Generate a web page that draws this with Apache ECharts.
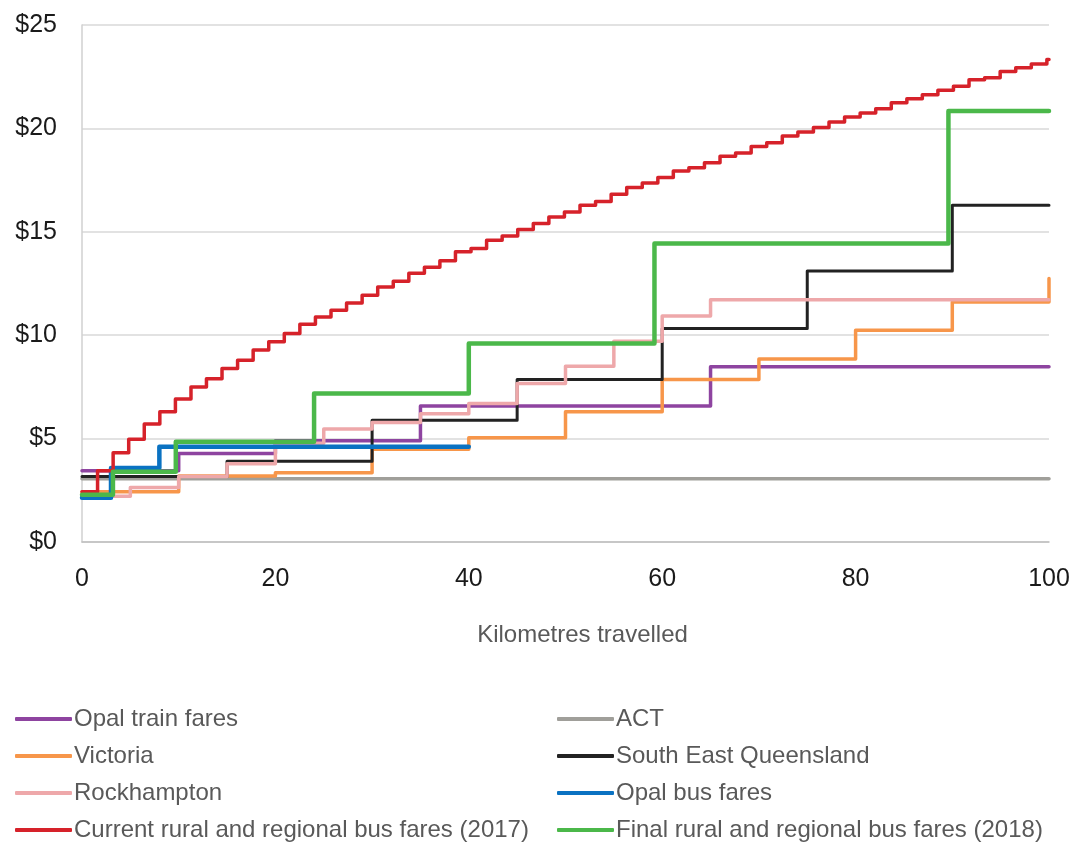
<!DOCTYPE html>
<html>
<head>
<meta charset="utf-8">
<script src="https://cdn.jsdelivr.net/npm/echarts@6/dist/echarts.min.js"></script>
<style>html,body{margin:0;padding:0;background:#fff;}#c{width:1075px;height:842px;}</style>
</head>
<body>
<div id="c"></div>
<script>
// ---- data ----
const xTicks = [0, 20, 40, 60, 80, 100];
const yTicks = [0, 5, 10, 15, 20, 25];

const opalTrainKm   = [0, 10, 20, 35, 65, 100];
const opalTrainFare = [3.44, 4.28, 4.90, 6.58, 8.48, 8.48];

const actKm   = [0, 100];
const actFare = [3.06, 3.06];

const victoriaKm   = [0, 10, 20, 30, 40, 50, 60, 70, 80, 90, 100];
const victoriaFare = [2.43, 3.19, 3.35, 4.48, 5.04, 6.30, 7.86, 8.85, 10.24, 11.61, 12.74];

const seqKm   = [0, 15, 30, 45, 60, 75, 90, 100];
const seqFare = [3.17, 3.90, 5.89, 7.86, 10.32, 13.10, 16.28, 16.28];

const rockKm   = [0, 5, 10, 15, 20, 25, 30, 35, 40, 45, 50, 55, 60, 65, 100];
const rockFare = [2.21, 2.63, 3.17, 3.78, 4.78, 5.46, 5.78, 6.20, 6.70, 7.67, 8.50, 9.71, 10.93, 11.72, 11.72];

const opalBusKm   = [0, 3, 8, 40];
const opalBusFare = [2.14, 3.58, 4.60, 4.60];

const currentKm = [0, 1.61, 3.22, 4.83, 6.44, 8.05, 9.66, 11.27, 12.87, 14.48, 16.09, 17.70, 19.31, 20.92,
  22.53, 24.14, 25.75, 27.36, 28.97, 30.58, 32.19, 33.80, 35.41, 37.01, 38.62, 40.23, 41.84, 43.45,
  45.06, 46.67, 48.28, 49.89, 51.50, 53.11, 54.72, 56.33, 57.94, 59.55, 61.15, 62.76, 64.37, 65.98,
  67.59, 69.20, 70.81, 72.42, 74.03, 75.64, 77.25, 78.86, 80.47, 82.08, 83.69, 85.30, 86.90, 88.51,
  90.12, 91.73, 93.34, 94.95, 96.56, 98.17, 99.78, 100];
const currentFare = [2.43, 3.44, 4.32, 4.97, 5.70, 6.30, 6.91, 7.50, 7.90, 8.39, 8.79, 9.28, 9.68, 10.08,
  10.53, 10.88, 11.21, 11.56, 11.93, 12.33, 12.61, 13.00, 13.28, 13.60, 14.03, 14.19, 14.59, 14.80,
  15.11, 15.40, 15.72, 15.96, 16.28, 16.47, 16.81, 17.14, 17.36, 17.62, 17.94, 18.10, 18.34, 18.65,
  18.81, 19.13, 19.31, 19.63, 19.83, 20.04, 20.31, 20.55, 20.75, 20.95, 21.24, 21.43, 21.63, 21.84,
  22.04, 22.35, 22.45, 22.75, 22.93, 23.12, 23.33, 23.33];

const finalKm   = [0, 3.2, 9.7, 24, 40, 59.2, 89.6, 100];
const finalFare = [2.29, 3.40, 4.85, 7.18, 9.60, 14.43, 20.84, 20.84];

const names = {
  train: 'Opal train fares', act: 'ACT', vic: 'Victoria', seq: 'South East Queensland',
  rock: 'Rockhampton', bus: 'Opal bus fares',
  cur: 'Current rural and regional bus fares (2017)', fin: 'Final rural and regional bus fares (2018)'
};

// ---- chart ----
function pairs(xs, ys) { return xs.map((x, i) => [x, ys[i]]); }
function mk(name, xs, ys, color, width, z) {
  return {
    name, type: 'line', step: 'end', showSymbol: false, symbol: 'none', z: z,
    data: pairs(xs, ys),
    lineStyle: { color, width, cap: 'round', join: 'round' },
    itemStyle: { color }
  };
}

const chart = echarts.init(document.getElementById('c'), null, { renderer: 'canvas' });
const txt = '#595959';
const font = 'Liberation Sans';
function legendCol(left, width, data) {
  return {
    orient: 'vertical', left: left, top: 707, width: width, height: 170, padding: 0,
    itemGap: 13, itemWidth: 57, itemHeight: 4,
    icon: 'roundRect',
    textStyle: { color: txt, fontSize: 24, fontFamily: font, padding: [0, 0, 0, -3] },
    data: data
  };
}
chart.setOption({
  animation: false,
  backgroundColor: '#fff',
  grid: { left: 82, right: 26, top: 25, bottom: 300, containLabel: false, outerBoundsMode: 'none' },
  xAxis: {
    type: 'value', min: xTicks[0], max: xTicks[xTicks.length - 1], interval: 20,
    name: 'Kilometres travelled', nameLocation: 'middle', nameGap: 81,
    nameTextStyle: { color: txt, fontSize: 24, fontFamily: font, padding: [0, 0, 0, 34] },
    axisLine: { show: true, lineStyle: { color: '#bfbfbf', width: 1.5 } },
    axisTick: { show: false },
    splitLine: { show: false },
    axisLabel: { color: '#1a1a1a', fontSize: 25, margin: 25, fontFamily: font }
  },
  yAxis: {
    type: 'value', min: yTicks[0], max: yTicks[yTicks.length - 1], interval: 5,
    axisLine: { show: true, lineStyle: { color: '#d0d0d0', width: 1.5 } },
    axisTick: { show: false },
    splitLine: { show: true, lineStyle: { color: '#d9d9d9', width: 1.5 } },
    axisLabel: { color: '#1a1a1a', fontSize: 25, margin: 25, fontFamily: font, formatter: v => '$' + v }
  },
  legend: [
    legendCol(15, 530, [names.train, names.vic, names.rock, names.cur]),
    legendCol(557, 515, [names.act, names.seq, names.bus, names.fin])
  ],
  series: [
    mk(names.act, actKm, actFare, '#a09f9a', 3.5, 2),
    mk(names.train, opalTrainKm, opalTrainFare, '#8e44a0', 3.5, 3),
    mk(names.vic, victoriaKm, victoriaFare, '#f7964a', 3.5, 4),
    mk(names.seq, seqKm, seqFare, '#222222', 3, 5),
    mk(names.rock, rockKm, rockFare, '#eea8aa', 3.5, 6),
    mk(names.bus, opalBusKm, opalBusFare, '#0a72c2', 4.5, 7),
    mk(names.cur, currentKm, currentFare, '#d6222a', 3.5, 8),
    mk(names.fin, finalKm, finalFare, '#4bb84a', 4.5, 9)
  ]
});
</script>
</body>
</html>
